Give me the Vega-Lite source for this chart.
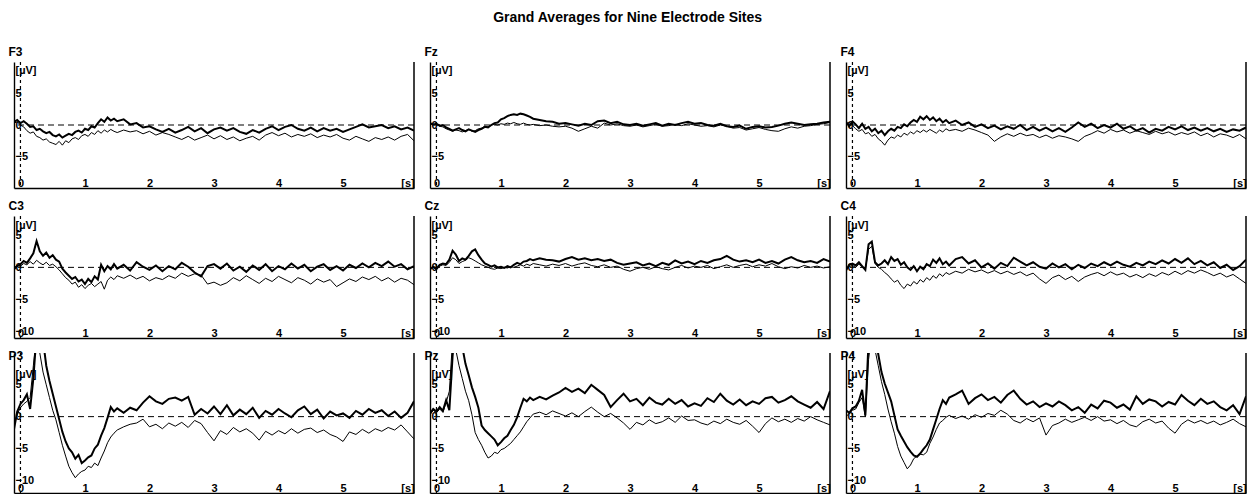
{
"$schema": "https://vega.github.io/schema/vega-lite/v6.json",
"background": "white",
"padding": {"left": 8, "top": 11, "right": 4, "bottom": 0},
"title": {"text": "Grand Averages for Nine Electrode Sites", "anchor": "middle", "dx": 0, "fontSize": 14, "offset": 21},
"data": {"values": [
{"t":-0.1,"F3a":0.5,"F3b":0.3,"Fza":0.3,"Fzb":0.2,"F4a":0.5,"F4b":0.2,"C3a":-0.3,"C3b":0,"Cza":-0.3,"Czb":-0.2,"C4a":-0.5,"C4b":-0.2,"P3a":-2,"P3b":-1.5,"Pza":0.5,"Pzb":0.3,"P4a":1,"P4b":0},
{"t":-0.05,"F3a":0.8,"F3b":0.5,"Fza":0.1,"Fzb":0,"F4a":-0.2,"F4b":0.4,"C3a":0.2,"C3b":0.3,"Cza":0.1,"Czb":0,"C4a":0.4,"C4b":0.1,"P3a":0.8,"P3b":0.4,"Pza":1.2,"Pzb":1,"P4a":0.6,"P4b":0.5},
{"t":0,"F3a":0.3,"F3b":0,"Fza":0.2,"Fzb":0.1,"F4a":0.6,"F4b":-0.1,"C3a":0.5,"C3b":0.2,"Cza":-0.2,"Czb":-0.4,"C4a":0.6,"C4b":0.3,"P3a":2,"P3b":1.4,"Pza":0.8,"Pzb":0.6,"P4a":1.3,"P4b":1},
{"t":0.05,"F3a":0.6,"F3b":-0.3,"Fza":-0.1,"Fzb":-0.2,"F4a":0.1,"F4b":-0.6,"C3a":1,"C3b":0.6,"Cza":0.4,"Czb":0.2,"C4a":0.3,"C4b":0,"P3a":2.6,"P3b":2,"Pza":1.5,"Pzb":1.2,"P4a":1.6,"P4b":1.2},
{"t":0.1,"F3a":0.2,"F3b":-0.9,"Fza":0,"Fzb":-0.3,"F4a":-0.5,"F4b":-1,"C3a":0.7,"C3b":0.4,"Cza":0.6,"Czb":0.4,"C4a":0.8,"C4b":0.5,"P3a":3.5,"P3b":2.4,"Pza":0.9,"Pzb":0.7,"P4a":2.5,"P4b":2.2},
{"t":0.15,"F3a":-0.3,"F3b":-1.3,"Fza":-0.4,"Fzb":-0.6,"F4a":0.2,"F4b":-0.7,"C3a":1.4,"C3b":0.9,"Cza":0.5,"Czb":0.3,"C4a":0.2,"C4b":0.1,"P3a":1.2,"P3b":3,"Pza":2.6,"Pzb":2.2,"P4a":4.2,"P4b":3},
{"t":0.2,"F3a":-0.2,"F3b":-1.1,"Fza":-0.6,"Fzb":-0.8,"F4a":-0.6,"F4b":-1.4,"C3a":2.2,"C3b":0.5,"Cza":1.2,"Czb":0.8,"C4a":-0.4,"C4b":-0.3,"P3a":6,"P3b":8,"Pza":1,"Pzb":4,"P4a":0.2,"P4b":0},
{"t":0.25,"F3a":-0.8,"F3b":-1.8,"Fza":-0.9,"Fzb":-1,"F4a":-0.3,"F4b":-1.2,"C3a":4.1,"C3b":1.1,"Cza":2.6,"Czb":1.5,"C4a":3.6,"C4b":2.8,"P3a":13,"P3b":13,"Pza":9.5,"Pzb":12,"P4a":12,"P4b":9},
{"t":0.3,"F3a":-0.6,"F3b":-2,"Fza":-0.7,"Fzb":-0.8,"F4a":-1,"F4b":-1.8,"C3a":2.5,"C3b":0.7,"Cza":2,"Czb":1.2,"C4a":4,"C4b":3.3,"P3a":16,"P3b":10,"Pza":15,"Pzb":10.5,"P4a":15,"P4b":13},
{"t":0.35,"F3a":-1,"F3b":-2.4,"Fza":-0.5,"Fzb":-0.9,"F4a":-0.6,"F4b":-1.5,"C3a":1.8,"C3b":0.4,"Cza":1,"Czb":0.6,"C4a":0.8,"C4b":0.6,"P3a":12,"P3b":7,"Pza":14,"Pzb":8,"P4a":13,"P4b":10.5},
{"t":0.4,"F3a":-1.3,"F3b":-2.2,"Fza":-0.8,"Fzb":-1.1,"F4a":-1.3,"F4b":-2.2,"C3a":2.3,"C3b":0.8,"Cza":1.4,"Czb":0.9,"C4a":0.3,"C4b":0,"P3a":8,"P3b":5,"Pza":11,"Pzb":6,"P4a":9.8,"P4b":8},
{"t":0.45,"F3a":-1.1,"F3b":-2.7,"Fza":-1,"Fzb":-0.9,"F4a":-0.9,"F4b":-2.6,"C3a":1.5,"C3b":0.3,"Cza":1.2,"Czb":1.1,"C4a":0.6,"C4b":-0.3,"P3a":5.6,"P3b":3,"Pza":8.3,"Pzb":4,"P4a":7,"P4b":5.5},
{"t":0.5,"F3a":-1.6,"F3b":-2.9,"Fza":-0.7,"Fzb":-0.7,"F4a":-1.6,"F4b":-3.2,"C3a":1.9,"C3b":0.5,"Cza":1.8,"Czb":1.5,"C4a":1.1,"C4b":-0.8,"P3a":3.6,"P3b":1,"Pza":6.5,"Pzb":2.5,"P4a":5.2,"P4b":3.5},
{"t":0.55,"F3a":-1.8,"F3b":-3.1,"Fza":-0.9,"Fzb":-1,"F4a":-1,"F4b":-2.4,"C3a":1.2,"C3b":0.1,"Cza":2.5,"Czb":1.3,"C4a":0.5,"C4b":-1.2,"P3a":1.6,"P3b":-0.5,"Pza":4.6,"Pzb":0.3,"P4a":3.8,"P4b":1.2},
{"t":0.6,"F3a":-1.5,"F3b":-2.6,"Fza":-1.1,"Fzb":-0.9,"F4a":-0.6,"F4b":-1.9,"C3a":0.9,"C3b":-0.4,"Cza":2.8,"Czb":1,"C4a":1.6,"C4b":-1.8,"P3a":-0.4,"P3b":-2.5,"Pza":3.1,"Pzb":-2.5,"P4a":2.4,"P4b":-0.8},
{"t":0.65,"F3a":-2,"F3b":-3.2,"Fza":-0.8,"Fzb":-0.6,"F4a":-0.9,"F4b":-2.1,"C3a":-0.2,"C3b":-1,"Cza":1.9,"Czb":0.7,"C4a":1,"C4b":-2.3,"P3a":-2.4,"P3b":-4.5,"Pza":1.4,"Pzb":-3.6,"P4a":0.2,"P4b":-2.6},
{"t":0.7,"F3a":-1.7,"F3b":-2.5,"Fza":-0.6,"Fzb":-0.5,"F4a":-0.3,"F4b":-1.6,"C3a":-0.8,"C3b":-1.6,"Cza":1.2,"Czb":0.4,"C4a":1.3,"C4b":-2,"P3a":-3.9,"P3b":-6.2,"Pza":-1.4,"Pzb":-4.5,"P4a":-2,"P4b":-4.7},
{"t":0.75,"F3a":-1.4,"F3b":-2.8,"Fza":-0.3,"Fzb":-0.2,"F4a":-0.5,"F4b":-1.9,"C3a":-1.3,"C3b":-2,"Cza":0.6,"Czb":0.2,"C4a":0.4,"C4b":-2.8,"P3a":-5,"P3b":-7.8,"Pza":-2.1,"Pzb":-5.6,"P4a":-3,"P4b":-6.2},
{"t":0.8,"F3a":-1.6,"F3b":-2.2,"Fza":-0.4,"Fzb":-0.3,"F4a":0.1,"F4b":-1.3,"C3a":-1.8,"C3b":-2.6,"Cza":0.4,"Czb":0,"C4a":0.8,"C4b":-3.3,"P3a":-5.6,"P3b":-8.8,"Pza":-2.6,"Pzb":-6.5,"P4a":-3.9,"P4b":-7.2},
{"t":0.85,"F3a":-1.1,"F3b":-2,"Fza":0,"Fzb":0,"F4a":-0.2,"F4b":-1.6,"C3a":-1.5,"C3b":-2.3,"Cza":0.1,"Czb":-0.2,"C4a":0,"C4b":-2.6,"P3a":-6.6,"P3b":-9.6,"Pza":-3.1,"Pzb":-6.2,"P4a":-4.8,"P4b":-8.2},
{"t":0.9,"F3a":-0.9,"F3b":-2.3,"Fza":0.3,"Fzb":0.1,"F4a":0.4,"F4b":-1.1,"C3a":-2.2,"C3b":-3.1,"Cza":0.3,"Czb":-0.3,"C4a":-0.4,"C4b":-2.9,"P3a":-6,"P3b":-9,"Pza":-3.6,"Pzb":-5.6,"P4a":-5.5,"P4b":-7.6},
{"t":0.95,"F3a":-1.2,"F3b":-1.7,"Fza":0.4,"Fzb":0,"F4a":0.8,"F4b":-1.4,"C3a":-1.9,"C3b":-2.7,"Cza":0,"Czb":-0.1,"C4a":0.2,"C4b":-2.2,"P3a":-7.3,"P3b":-8.6,"Pza":-4.5,"Pzb":-5.8,"P4a":-6.1,"P4b":-6.6},
{"t":1,"F3a":-0.6,"F3b":-1.5,"Fza":0.9,"Fzb":0.2,"F4a":0.5,"F4b":-0.9,"C3a":-2.6,"C3b":-3.3,"Cza":0.1,"Czb":-0.2,"C4a":-0.6,"C4b":-2.6,"P3a":-6.9,"P3b":-8.4,"Pza":-4,"Pzb":-5.2,"P4a":-6.3,"P4b":-6.2},
{"t":1.05,"F3a":-0.8,"F3b":-1.8,"Fza":1.1,"Fzb":0.1,"F4a":1.3,"F4b":-1.2,"C3a":-1.8,"C3b":-2.8,"Cza":-0.1,"Czb":0,"C4a":0.1,"C4b":-1.9,"P3a":-6.4,"P3b":-7.8,"Pza":-3.4,"Pzb":-5,"P4a":-5.8,"P4b":-5.9},
{"t":1.1,"F3a":-0.2,"F3b":-1.2,"Fza":1.4,"Fzb":0.3,"F4a":0.9,"F4b":-0.8,"C3a":-2.3,"C3b":-2.5,"Cza":0.2,"Czb":-0.1,"C4a":-0.3,"C4b":-2.3,"P3a":-6.1,"P3b":-8,"Pza":-3,"Pzb":-4.6,"P4a":-5.1,"P4b":-6},
{"t":1.15,"F3a":-0.4,"F3b":-1.5,"Fza":1.6,"Fzb":0.2,"F4a":1.4,"F4b":-1.1,"C3a":-1.4,"C3b":-3,"Cza":0,"Czb":0.1,"C4a":0.5,"C4b":-1.6,"P3a":-5,"P3b":-7.3,"Pza":-2.1,"Pzb":-4.2,"P4a":-4.5,"P4b":-5.6},
{"t":1.2,"F3a":0.3,"F3b":-0.9,"Fza":1.7,"Fzb":0.4,"F4a":0.8,"F4b":-0.7,"C3a":-1.9,"C3b":-2.6,"Cza":0.4,"Czb":0,"C4a":0.2,"C4b":-2,"P3a":-4.4,"P3b":-7.7,"Pza":-1.3,"Pzb":-3.6,"P4a":-3.6,"P4b":-4.2},
{"t":1.25,"F3a":0.9,"F3b":-1.3,"Fza":1.6,"Fzb":0.2,"F4a":1.2,"F4b":-1,"C3a":0.4,"C3b":-2.2,"Cza":0.7,"Czb":0.2,"C4a":1.2,"C4b":-1.3,"P3a":-3,"P3b":-6.5,"Pza":-0.1,"Pzb":-3,"P4a":-2,"P4b":-3.2},
{"t":1.3,"F3a":0.5,"F3b":-0.8,"Fza":1.8,"Fzb":0.1,"F4a":0.6,"F4b":-1.3,"C3a":-0.6,"C3b":-3.4,"Cza":0.5,"Czb":0.4,"C4a":0.7,"C4b":-1.7,"P3a":-1.8,"P3b":-5.4,"Pza":1.4,"Pzb":-2.4,"P4a":-0.4,"P4b":-2},
{"t":1.35,"F3a":1.2,"F3b":-1.1,"Fza":1.7,"Fzb":0.3,"F4a":1,"F4b":-0.8,"C3a":0.2,"C3b":-2,"Cza":0.9,"Czb":0.2,"C4a":1.4,"C4b":-1,"P3a":-0.2,"P3b":-4.1,"Pza":2.8,"Pzb":-1.6,"P4a":1.2,"P4b":-1},
{"t":1.4,"F3a":0.7,"F3b":-0.7,"Fza":1.5,"Fzb":0.1,"F4a":0.4,"F4b":-1.1,"C3a":-0.3,"C3b":-1.5,"Cza":1,"Czb":0.5,"C4a":0.5,"C4b":-1.4,"P3a":1.5,"P3b":-3.2,"Pza":2.4,"Pzb":-0.8,"P4a":2.6,"P4b":-0.6},
{"t":1.45,"F3a":1,"F3b":-1,"Fza":1.3,"Fzb":0,"F4a":0.8,"F4b":-0.6,"C3a":0.5,"C3b":-1.9,"Cza":1.3,"Czb":0.3,"C4a":0.9,"C4b":-0.8,"P3a":0.8,"P3b":-2.6,"Pza":3,"Pzb":-0.2,"P4a":2,"P4b":-0.1},
{"t":1.5,"F3a":0.6,"F3b":-1.2,"Fza":1,"Fzb":0.1,"F4a":0.3,"F4b":-0.9,"C3a":-0.2,"C3b":-1.3,"Cza":1.1,"Czb":0.6,"C4a":0.3,"C4b":-1.1,"P3a":1.3,"P3b":-2.1,"Pza":2.6,"Pzb":0.4,"P4a":3,"P4b":0.2},
{"t":1.6,"F3a":0.9,"F3b":-0.8,"Fza":0.8,"Fzb":-0.1,"F4a":0.7,"F4b":-0.7,"C3a":0.4,"C3b":-1.7,"Cza":1.4,"Czb":0.4,"C4a":1.3,"C4b":-0.6,"P3a":0.6,"P3b":-1.6,"Pza":3.1,"Pzb":0.7,"P4a":3.5,"P4b":-0.3},
{"t":1.7,"F3a":0.1,"F3b":-1.1,"Fza":0.6,"Fzb":0,"F4a":0,"F4b":-1,"C3a":-0.5,"C3b":-1.2,"Cza":1.2,"Czb":0.2,"C4a":1.6,"C4b":-0.9,"P3a":1.4,"P3b":-1.2,"Pza":2.7,"Pzb":0.3,"P4a":4.1,"P4b":0.1},
{"t":1.8,"F3a":0.3,"F3b":-0.9,"Fza":0.5,"Fzb":-0.2,"F4a":0.4,"F4b":-0.5,"C3a":0.8,"C3b":-1.8,"Cza":1.1,"Czb":0.5,"C4a":0.6,"C4b":-0.3,"P3a":1,"P3b":-1,"Pza":3.3,"Pzb":0.9,"P4a":2,"P4b":-0.4},
{"t":1.9,"F3a":-0.4,"F3b":-1.4,"Fza":0.2,"Fzb":-0.3,"F4a":-0.3,"F4b":-0.8,"C3a":0.1,"C3b":-1.4,"Cza":0.9,"Czb":0.3,"C4a":1.1,"C4b":-0.7,"P3a":2.2,"P3b":-0.4,"Pza":3.8,"Pzb":0.5,"P4a":2.9,"P4b":0.3},
{"t":2,"F3a":-0.2,"F3b":-1,"Fza":0.3,"Fzb":-0.2,"F4a":0.1,"F4b":-1.2,"C3a":-0.4,"C3b":-2.1,"Cza":1.3,"Czb":0.6,"C4a":0,"C4b":-0.4,"P3a":3.2,"P3b":-1.6,"Pza":4.5,"Pzb":0.1,"P4a":3.5,"P4b":-0.1},
{"t":2.1,"F3a":-0.7,"F3b":-1.6,"Fza":0.1,"Fzb":-0.5,"F4a":-0.5,"F4b":-1.6,"C3a":0.3,"C3b":-1.6,"Cza":1.6,"Czb":0.2,"C4a":0.6,"C4b":-0.9,"P3a":2.4,"P3b":-1.2,"Pza":3.9,"Pzb":0.6,"P4a":2.6,"P4b":0.5},
{"t":2.2,"F3a":-1.1,"F3b":-1.2,"Fza":-0.1,"Fzb":-1,"F4a":-0.1,"F4b":-2.6,"C3a":-0.6,"C3b":-1.9,"Cza":1.2,"Czb":0.5,"C4a":-0.2,"C4b":-0.5,"P3a":2,"P3b":-1.9,"Pza":4.4,"Pzb":0,"P4a":3.1,"P4b":0.2},
{"t":2.3,"F3a":-0.6,"F3b":-1.5,"Fza":0.2,"Fzb":-0.6,"F4a":-0.7,"F4b":-1.9,"C3a":0.2,"C3b":-1.3,"Cza":1.4,"Czb":0.7,"C4a":0.7,"C4b":-1,"P3a":2.8,"P3b":-1,"Pza":3.7,"Pzb":0.8,"P4a":2.2,"P4b":1},
{"t":2.4,"F3a":-1.2,"F3b":-1.9,"Fza":0,"Fzb":-0.2,"F4a":-0.2,"F4b":-1.4,"C3a":-0.3,"C3b":-1.7,"Cza":1.1,"Czb":0.3,"C4a":0.2,"C4b":-0.6,"P3a":3,"P3b":-1.5,"Pza":5,"Pzb":1.5,"P4a":3.4,"P4b":0.4},
{"t":2.5,"F3a":-0.8,"F3b":-2.3,"Fza":0.6,"Fzb":-0.5,"F4a":-0.6,"F4b":-1.8,"C3a":0.7,"C3b":-0.9,"Cza":1.3,"Czb":0.1,"C4a":1.5,"C4b":-1.1,"P3a":2.5,"P3b":-0.9,"Pza":4.2,"Pzb":0.7,"P4a":4.1,"P4b":-0.6},
{"t":2.6,"F3a":-0.3,"F3b":-1.8,"Fza":0.7,"Fzb":0.3,"F4a":0,"F4b":-1.3,"C3a":0.1,"C3b":-1.4,"Cza":1,"Czb":0.4,"C4a":0.9,"C4b":-0.7,"P3a":3.1,"P3b":-1.7,"Pza":3.4,"Pzb":0,"P4a":2.8,"P4b":-1},
{"t":2.7,"F3a":-1,"F3b":-2.4,"Fza":0.3,"Fzb":0,"F4a":-0.8,"F4b":-1.7,"C3a":-0.8,"C3b":-1,"Cza":1.2,"Czb":0,"C4a":0.3,"C4b":-1.3,"P3a":0.3,"P3b":-0.6,"Pza":1.5,"Pzb":0.5,"P4a":1.9,"P4b":-0.3},
{"t":2.8,"F3a":-0.5,"F3b":-2,"Fza":0.5,"Fzb":0.2,"F4a":-0.3,"F4b":-1.5,"C3a":-1.4,"C3b":-1.2,"Cza":0.7,"Czb":0.2,"C4a":0.8,"C4b":-0.9,"P3a":1.2,"P3b":-1.1,"Pza":2.6,"Pzb":-0.2,"P4a":2.4,"P4b":-0.8},
{"t":2.9,"F3a":-1.3,"F3b":-1.6,"Fza":0.1,"Fzb":-0.1,"F4a":-0.9,"F4b":-2,"C3a":0.2,"C3b":-2.6,"Cza":0.4,"Czb":-0.3,"C4a":0.1,"C4b":-1.8,"P3a":0.5,"P3b":-2.5,"Pza":3.6,"Pzb":-1,"P4a":1.5,"P4b":-0.2},
{"t":3,"F3a":-0.7,"F3b":-2.2,"Fza":0,"Fzb":-0.2,"F4a":-0.4,"F4b":-1.6,"C3a":0.5,"C3b":-2.3,"Cza":0.6,"Czb":-0.6,"C4a":-0.2,"C4b":-2.5,"P3a":1.6,"P3b":-3.8,"Pza":2.4,"Pzb":-2,"P4a":2.1,"P4b":-2.9},
{"t":3.1,"F3a":-0.4,"F3b":-1.7,"Fza":0.2,"Fzb":0,"F4a":-1,"F4b":-2.1,"C3a":-0.2,"C3b":-2.8,"Cza":0.8,"Czb":-0.2,"C4a":0.6,"C4b":-1.6,"P3a":0.4,"P3b":-2.2,"Pza":2.8,"Pzb":-0.9,"P4a":1.6,"P4b":-1.4},
{"t":3.2,"F3a":-0.9,"F3b":-2.3,"Fza":-0.1,"Fzb":-0.3,"F4a":-0.5,"F4b":-1.7,"C3a":0.6,"C3b":-2.4,"Cza":0.3,"Czb":0,"C4a":0,"C4b":-1.2,"P3a":1.8,"P3b":-2.8,"Pza":1.8,"Pzb":-1.3,"P4a":2.4,"P4b":-1},
{"t":3.3,"F3a":-0.5,"F3b":-1.9,"Fza":0.1,"Fzb":-0.1,"F4a":-1.1,"F4b":-1.9,"C3a":-0.5,"C3b":-1.6,"Cza":0.6,"Czb":-0.3,"C4a":0.5,"C4b":-1.9,"P3a":0.2,"P3b":-1.7,"Pza":3,"Pzb":-0.5,"P4a":1.8,"P4b":-0.4},
{"t":3.4,"F3a":-1.1,"F3b":-2.5,"Fza":0.3,"Fzb":0.1,"F4a":-0.4,"F4b":-2.2,"C3a":0.1,"C3b":-2.1,"Cza":0.2,"Czb":0.1,"C4a":-0.3,"C4b":-1.4,"P3a":1.1,"P3b":-2.4,"Pza":2.2,"Pzb":-1.1,"P4a":1,"P4b":-0.9},
{"t":3.5,"F3a":-1.4,"F3b":-2.1,"Fza":-0.1,"Fzb":-0.2,"F4a":0.4,"F4b":-2.6,"C3a":-0.7,"C3b":-1.3,"Cza":0.7,"Czb":-0.2,"C4a":0.4,"C4b":-2.2,"P3a":0.4,"P3b":-1.9,"Pza":1.9,"Pzb":-0.8,"P4a":1.5,"P4b":-0.5},
{"t":3.6,"F3a":-0.8,"F3b":-1.8,"Fza":0.2,"Fzb":-0.1,"F4a":-0.3,"F4b":-1.8,"C3a":0.3,"C3b":-1.9,"Cza":0.4,"Czb":-0.4,"C4a":-0.1,"C4b":-1.5,"P3a":1.4,"P3b":-2.6,"Pza":2.8,"Pzb":-0.2,"P4a":0.6,"P4b":-0.1},
{"t":3.7,"F3a":-1.2,"F3b":-2.4,"Fza":0,"Fzb":0.1,"F4a":0.2,"F4b":-1.4,"C3a":-0.4,"C3b":-2.5,"Cza":1.1,"Czb":0,"C4a":0.6,"C4b":-1.1,"P3a":-0.2,"P3b":-3.7,"Pza":2,"Pzb":-0.9,"P4a":1.9,"P4b":-0.6},
{"t":3.8,"F3a":-0.6,"F3b":-1.6,"Fza":0.3,"Fzb":-0.1,"F4a":-0.5,"F4b":-0.9,"C3a":0.5,"C3b":-1.7,"Cza":0.6,"Czb":0.3,"C4a":0.2,"C4b":-0.8,"P3a":0.9,"P3b":-2.3,"Pza":2.6,"Pzb":0.1,"P4a":1.3,"P4b":0},
{"t":3.9,"F3a":-0.2,"F3b":-1.2,"Fza":0.5,"Fzb":0.2,"F4a":0,"F4b":-1.3,"C3a":-0.6,"C3b":-2.2,"Cza":0.9,"Czb":-0.1,"C4a":0.8,"C4b":-1.3,"P3a":0.3,"P3b":-2.9,"Pza":1.6,"Pzb":-0.6,"P4a":2.5,"P4b":-0.7},
{"t":4,"F3a":-0.8,"F3b":-1.7,"Fza":0.2,"Fzb":0,"F4a":-0.4,"F4b":-0.7,"C3a":0.2,"C3b":-1.4,"Cza":0.5,"Czb":0.2,"C4a":0.3,"C4b":-0.7,"P3a":1.2,"P3b":-2.2,"Pza":2.1,"Pzb":-0.5,"P4a":2.2,"P4b":-0.5},
{"t":4.1,"F3a":-0.3,"F3b":-1.3,"Fza":0.3,"Fzb":-0.2,"F4a":0.2,"F4b":-1.1,"C3a":-0.3,"C3b":-1.9,"Cza":1,"Czb":0,"C4a":0.9,"C4b":-1.2,"P3a":0.5,"P3b":-2.7,"Pza":1.7,"Pzb":-1,"P4a":1.4,"P4b":-1.1},
{"t":4.2,"F3a":0,"F3b":-1.9,"Fza":0,"Fzb":-0.1,"F4a":-0.6,"F4b":-0.8,"C3a":0.6,"C3b":-2.4,"Cza":0.7,"Czb":0.3,"C4a":0.4,"C4b":-0.9,"P3a":-0.1,"P3b":-1.9,"Pza":2.9,"Pzb":-1.3,"P4a":1.9,"P4b":-0.6},
{"t":4.3,"F3a":-0.6,"F3b":-1.5,"Fza":-0.1,"Fzb":-0.3,"F4a":-0.2,"F4b":-1.3,"C3a":-0.2,"C3b":-1.6,"Cza":1.1,"Czb":-0.2,"C4a":0.1,"C4b":-1.5,"P3a":1,"P3b":-2.6,"Pza":2.3,"Pzb":-0.7,"P4a":1.1,"P4b":-1.3},
{"t":4.4,"F3a":-0.9,"F3b":-1.8,"Fza":0.2,"Fzb":0,"F4a":-0.9,"F4b":-0.9,"C3a":0.4,"C3b":-2,"Cza":1.3,"Czb":0.1,"C4a":0.7,"C4b":-1.1,"P3a":1.6,"P3b":-2,"Pza":3.6,"Pzb":-1.1,"P4a":3.2,"P4b":-1.6},
{"t":4.5,"F3a":-0.4,"F3b":-1.4,"Fza":-0.2,"Fzb":-0.2,"F4a":-0.5,"F4b":-1.2,"C3a":-0.6,"C3b":-2.6,"Cza":1.8,"Czb":0.4,"C4a":0.3,"C4b":-1.6,"P3a":0.4,"P3b":-1.8,"Pza":2.5,"Pzb":-0.4,"P4a":2,"P4b":-0.8},
{"t":4.6,"F3a":-1,"F3b":-2,"Fza":-0.3,"Fzb":-0.5,"F4a":-1.2,"F4b":-1.5,"C3a":0.1,"C3b":-1.8,"Cza":1.2,"Czb":0,"C4a":0.9,"C4b":-1,"P3a":1.1,"P3b":-2.5,"Pza":1.9,"Pzb":-0.9,"P4a":2.7,"P4b":-0.4},
{"t":4.7,"F3a":-0.5,"F3b":-1.6,"Fza":-0.1,"Fzb":-0.4,"F4a":-0.6,"F4b":-1,"C3a":0.5,"C3b":-2.3,"Cza":0.9,"Czb":0.3,"C4a":0.5,"C4b":-1.4,"P3a":-0.3,"P3b":-2.1,"Pza":2.7,"Pzb":-1.2,"P4a":2.4,"P4b":-1},
{"t":4.8,"F3a":-0.9,"F3b":-1.9,"Fza":-0.6,"Fzb":-0.8,"F4a":-0.9,"F4b":-1.4,"C3a":-0.4,"C3b":-1.9,"Cza":1.1,"Czb":0.5,"C4a":1.1,"C4b":-0.8,"P3a":0.8,"P3b":-2.8,"Pza":1.8,"Pzb":-0.6,"P4a":1.6,"P4b":-0.7},
{"t":4.9,"F3a":-0.6,"F3b":-1.5,"Fza":-0.3,"Fzb":-0.6,"F4a":-0.3,"F4b":-1.1,"C3a":0.2,"C3b":-3,"Cza":0.8,"Czb":0.1,"C4a":0.6,"C4b":-1.2,"P3a":0.2,"P3b":-3.2,"Pza":2.4,"Pzb":-1.5,"P4a":2.3,"P4b":-1.8},
{"t":5,"F3a":-1.1,"F3b":-2.1,"Fza":-0.2,"Fzb":-0.4,"F4a":-0.7,"F4b":-1.6,"C3a":-0.5,"C3b":-2.4,"Cza":1.2,"Czb":0.4,"C4a":1.3,"C4b":-0.6,"P3a":0.5,"P3b":-3.9,"Pza":2,"Pzb":-2.5,"P4a":1.9,"P4b":-2.6},
{"t":5.1,"F3a":-0.7,"F3b":-2.4,"Fza":-0.4,"Fzb":-0.7,"F4a":-0.2,"F4b":-1.2,"C3a":0.4,"C3b":-1.8,"Cza":0.7,"Czb":0.2,"C4a":0.7,"C4b":-1.1,"P3a":-0.2,"P3b":-2.4,"Pza":2.9,"Pzb":-1.1,"P4a":3.4,"P4b":-1.2},
{"t":5.2,"F3a":-0.3,"F3b":-1.8,"Fza":-0.3,"Fzb":-0.9,"F4a":-0.8,"F4b":-1.5,"C3a":-0.1,"C3b":-2.2,"Cza":1,"Czb":0.6,"C4a":1.4,"C4b":-0.5,"P3a":0.9,"P3b":-2.8,"Pza":3.1,"Pzb":-0.2,"P4a":2.5,"P4b":-0.5},
{"t":5.3,"F3a":0.1,"F3b":-2.2,"Fza":-0.1,"Fzb":-1,"F4a":-0.4,"F4b":-1.1,"C3a":0.6,"C3b":-1.5,"Cza":0.6,"Czb":0.1,"C4a":0.5,"C4b":-0.9,"P3a":0.3,"P3b":-2,"Pza":2.2,"Pzb":-0.8,"P4a":1.8,"P4b":-1},
{"t":5.4,"F3a":-0.4,"F3b":-2.6,"Fza":0.2,"Fzb":-0.6,"F4a":-0.9,"F4b":-1.7,"C3a":0,"C3b":-1.9,"Cza":1.2,"Czb":-0.2,"C4a":1,"C4b":-0.4,"P3a":1.2,"P3b":-2.6,"Pza":2.6,"Pzb":-0.4,"P4a":2.8,"P4b":-0.6},
{"t":5.5,"F3a":-0.2,"F3b":-2,"Fza":0.4,"Fzb":-0.3,"F4a":-0.5,"F4b":-1.3,"C3a":0.7,"C3b":-1.4,"Cza":1.6,"Czb":0.1,"C4a":0.3,"C4b":-0.8,"P3a":0.6,"P3b":-1.9,"Pza":3.2,"Pzb":-0.9,"P4a":2,"P4b":-1.1},
{"t":5.6,"F3a":0,"F3b":-2.3,"Fza":0.2,"Fzb":-0.5,"F4a":-1,"F4b":-1.9,"C3a":0.2,"C3b":-2.1,"Cza":1.1,"Czb":-0.1,"C4a":0.8,"C4b":-1.3,"P3a":1,"P3b":-2.3,"Pza":2.4,"Pzb":-0.3,"P4a":2.4,"P4b":-0.7},
{"t":5.7,"F3a":-0.5,"F3b":-1.9,"Fza":0,"Fzb":-0.2,"F4a":-0.6,"F4b":-1.4,"C3a":0.9,"C3b":-1.6,"Cza":0.8,"Czb":0.3,"C4a":-0.1,"C4b":-0.9,"P3a":0.1,"P3b":-1.7,"Pza":1.9,"Pzb":-0.7,"P4a":1.5,"P4b":-1.3},
{"t":5.8,"F3a":-0.2,"F3b":-2.4,"Fza":0.1,"Fzb":-0.1,"F4a":-1.1,"F4b":-1.6,"C3a":0.1,"C3b":-2.3,"Cza":1,"Czb":0,"C4a":0.4,"C4b":-1.5,"P3a":0.8,"P3b":-2.1,"Pza":1.4,"Pzb":0,"P4a":1,"P4b":-0.9},
{"t":5.9,"F3a":-0.7,"F3b":-1.8,"Fza":0.2,"Fzb":0.1,"F4a":-0.7,"F4b":-2,"C3a":0.5,"C3b":-1.7,"Cza":0.7,"Czb":0.2,"C4a":-0.4,"C4b":-1.1,"P3a":-0.2,"P3b":-1.3,"Pza":2.3,"Pzb":-0.5,"P4a":1.8,"P4b":-0.4},
{"t":6,"F3a":-0.4,"F3b":-1.5,"Fza":0.4,"Fzb":0.2,"F4a":-0.9,"F4b":-1.5,"C3a":-0.3,"C3b":-2,"Cza":1.3,"Czb":-0.1,"C4a":0.2,"C4b":-1.8,"P3a":0.6,"P3b":-2.4,"Pza":1.2,"Pzb":-0.9,"P4a":0.4,"P4b":-1.1},
{"t":6.1,"F3a":-0.9,"F3b":-2.5,"Fza":0.5,"Fzb":0.4,"F4a":-0.4,"F4b":-2.2,"C3a":0.2,"C3b":-2.7,"Cza":0.9,"Czb":0.1,"C4a":1.2,"C4b":-2.5,"P3a":2.4,"P3b":-3.5,"Pza":4,"Pzb":-1.3,"P4a":3.2,"P4b":-1.6}
]},
"spacing": 11,
"vconcat": [
{"hconcat": [
{"title": "F3", "width": 400, "height": 126, "layer": [
{"data": {"values": [{"ref": 0}]}, "mark": {"type": "rule", "strokeDash": [3, 3], "strokeWidth": 1.2}, "encoding": {"x": {"datum": 0}}},
{"data": {"values": [{"ref": 0}]}, "mark": {"type": "rule", "strokeDash": [6, 4], "strokeWidth": 1}, "encoding": {"y": {"datum": 0}}},
{"data": {"values": [{"ref": 6.1}]}, "mark": {"type": "rule", "strokeWidth": 1.5}, "encoding": {"x": {"datum": 6.1}}},
{"mark": {"type": "line", "strokeWidth": 1, "clip": true}, "encoding": {"x": {"field": "t", "type": "quantitative", "scale": {"domain": [-0.1, 6.1], "nice": false, "zero": false}, "axis": {"title": null, "format": "d", "values": [0, 1, 2, 3, 4, 5, 6], "labelExpr": "datum.value == 6 ? '[s]' : datum.label"}}, "y": {"field": "F3b", "type": "quantitative", "scale": {"domain": [-10, 10], "nice": false, "zero": false}, "axis": {"title": "[µV]", "values": [-5, 0, 5], "titleY": 8}}}},
{"mark": {"type": "line", "strokeWidth": 2, "clip": true}, "encoding": {"x": {"field": "t", "type": "quantitative", "axis": {"title": null, "format": "d", "values": [0, 1, 2, 3, 4, 5, 6], "labelExpr": "datum.value == 6 ? '[s]' : datum.label"}}, "y": {"field": "F3a", "type": "quantitative", "axis": {"title": "[µV]", "values": [-5, 0, 5], "titleY": 8}}}}
]},
{"title": "Fz", "width": 400, "height": 126, "layer": [
{"data": {"values": [{"ref": 0}]}, "mark": {"type": "rule", "strokeDash": [3, 3], "strokeWidth": 1.2}, "encoding": {"x": {"datum": 0}}},
{"data": {"values": [{"ref": 0}]}, "mark": {"type": "rule", "strokeDash": [6, 4], "strokeWidth": 1}, "encoding": {"y": {"datum": 0}}},
{"data": {"values": [{"ref": 6.1}]}, "mark": {"type": "rule", "strokeWidth": 1.5}, "encoding": {"x": {"datum": 6.1}}},
{"mark": {"type": "line", "strokeWidth": 1, "clip": true}, "encoding": {"x": {"field": "t", "type": "quantitative", "scale": {"domain": [-0.1, 6.1], "nice": false, "zero": false}, "axis": {"title": null, "format": "d", "values": [0, 1, 2, 3, 4, 5, 6], "labelExpr": "datum.value == 6 ? '[s]' : datum.label"}}, "y": {"field": "Fzb", "type": "quantitative", "scale": {"domain": [-10, 10], "nice": false, "zero": false}, "axis": {"title": "[µV]", "values": [-5, 0, 5], "titleY": 8}}}},
{"mark": {"type": "line", "strokeWidth": 2, "clip": true}, "encoding": {"x": {"field": "t", "type": "quantitative", "axis": {"title": null, "format": "d", "values": [0, 1, 2, 3, 4, 5, 6], "labelExpr": "datum.value == 6 ? '[s]' : datum.label"}}, "y": {"field": "Fza", "type": "quantitative", "axis": {"title": "[µV]", "values": [-5, 0, 5], "titleY": 8}}}}
]},
{"title": "F4", "width": 400, "height": 126, "layer": [
{"data": {"values": [{"ref": 0}]}, "mark": {"type": "rule", "strokeDash": [3, 3], "strokeWidth": 1.2}, "encoding": {"x": {"datum": 0}}},
{"data": {"values": [{"ref": 0}]}, "mark": {"type": "rule", "strokeDash": [6, 4], "strokeWidth": 1}, "encoding": {"y": {"datum": 0}}},
{"data": {"values": [{"ref": 6.1}]}, "mark": {"type": "rule", "strokeWidth": 1.5}, "encoding": {"x": {"datum": 6.1}}},
{"mark": {"type": "line", "strokeWidth": 1, "clip": true}, "encoding": {"x": {"field": "t", "type": "quantitative", "scale": {"domain": [-0.1, 6.1], "nice": false, "zero": false}, "axis": {"title": null, "format": "d", "values": [0, 1, 2, 3, 4, 5, 6], "labelExpr": "datum.value == 6 ? '[s]' : datum.label"}}, "y": {"field": "F4b", "type": "quantitative", "scale": {"domain": [-10, 10], "nice": false, "zero": false}, "axis": {"title": "[µV]", "values": [-5, 0, 5], "titleY": 8}}}},
{"mark": {"type": "line", "strokeWidth": 2, "clip": true}, "encoding": {"x": {"field": "t", "type": "quantitative", "axis": {"title": null, "format": "d", "values": [0, 1, 2, 3, 4, 5, 6], "labelExpr": "datum.value == 6 ? '[s]' : datum.label"}}, "y": {"field": "F4a", "type": "quantitative", "axis": {"title": "[µV]", "values": [-5, 0, 5], "titleY": 8}}}}
]}
], "spacing": 9},
{"hconcat": [
{"title": "C3", "width": 400, "height": 122, "layer": [
{"data": {"values": [{"ref": 0}]}, "mark": {"type": "rule", "strokeDash": [3, 3], "strokeWidth": 1.2}, "encoding": {"x": {"datum": 0}}},
{"data": {"values": [{"ref": 0}]}, "mark": {"type": "rule", "strokeDash": [6, 4], "strokeWidth": 1}, "encoding": {"y": {"datum": 0}}},
{"data": {"values": [{"ref": 6.1}]}, "mark": {"type": "rule", "strokeWidth": 1.5}, "encoding": {"x": {"datum": 6.1}}},
{"mark": {"type": "line", "strokeWidth": 1, "clip": true}, "encoding": {"x": {"field": "t", "type": "quantitative", "scale": {"domain": [-0.1, 6.1], "nice": false, "zero": false}, "axis": {"title": null, "format": "d", "values": [0, 1, 2, 3, 4, 5, 6], "labelExpr": "datum.value == 6 ? '[s]' : datum.label"}}, "y": {"field": "C3b", "type": "quantitative", "scale": {"domain": [-11, 8], "nice": false, "zero": false}, "axis": {"title": "[µV]", "values": [-10, -5, 0, 5], "titleY": 9}}}},
{"mark": {"type": "line", "strokeWidth": 2, "clip": true}, "encoding": {"x": {"field": "t", "type": "quantitative", "axis": {"title": null, "format": "d", "values": [0, 1, 2, 3, 4, 5, 6], "labelExpr": "datum.value == 6 ? '[s]' : datum.label"}}, "y": {"field": "C3a", "type": "quantitative", "axis": {"title": "[µV]", "values": [-10, -5, 0, 5], "titleY": 9}}}}
]},
{"title": "Cz", "width": 400, "height": 122, "layer": [
{"data": {"values": [{"ref": 0}]}, "mark": {"type": "rule", "strokeDash": [3, 3], "strokeWidth": 1.2}, "encoding": {"x": {"datum": 0}}},
{"data": {"values": [{"ref": 0}]}, "mark": {"type": "rule", "strokeDash": [6, 4], "strokeWidth": 1}, "encoding": {"y": {"datum": 0}}},
{"data": {"values": [{"ref": 6.1}]}, "mark": {"type": "rule", "strokeWidth": 1.5}, "encoding": {"x": {"datum": 6.1}}},
{"mark": {"type": "line", "strokeWidth": 1, "clip": true}, "encoding": {"x": {"field": "t", "type": "quantitative", "scale": {"domain": [-0.1, 6.1], "nice": false, "zero": false}, "axis": {"title": null, "format": "d", "values": [0, 1, 2, 3, 4, 5, 6], "labelExpr": "datum.value == 6 ? '[s]' : datum.label"}}, "y": {"field": "Czb", "type": "quantitative", "scale": {"domain": [-11, 8], "nice": false, "zero": false}, "axis": {"title": "[µV]", "values": [-10, -5, 0, 5], "titleY": 9}}}},
{"mark": {"type": "line", "strokeWidth": 2, "clip": true}, "encoding": {"x": {"field": "t", "type": "quantitative", "axis": {"title": null, "format": "d", "values": [0, 1, 2, 3, 4, 5, 6], "labelExpr": "datum.value == 6 ? '[s]' : datum.label"}}, "y": {"field": "Cza", "type": "quantitative", "axis": {"title": "[µV]", "values": [-10, -5, 0, 5], "titleY": 9}}}}
]},
{"title": "C4", "width": 400, "height": 122, "layer": [
{"data": {"values": [{"ref": 0}]}, "mark": {"type": "rule", "strokeDash": [3, 3], "strokeWidth": 1.2}, "encoding": {"x": {"datum": 0}}},
{"data": {"values": [{"ref": 0}]}, "mark": {"type": "rule", "strokeDash": [6, 4], "strokeWidth": 1}, "encoding": {"y": {"datum": 0}}},
{"data": {"values": [{"ref": 6.1}]}, "mark": {"type": "rule", "strokeWidth": 1.5}, "encoding": {"x": {"datum": 6.1}}},
{"mark": {"type": "line", "strokeWidth": 1, "clip": true}, "encoding": {"x": {"field": "t", "type": "quantitative", "scale": {"domain": [-0.1, 6.1], "nice": false, "zero": false}, "axis": {"title": null, "format": "d", "values": [0, 1, 2, 3, 4, 5, 6], "labelExpr": "datum.value == 6 ? '[s]' : datum.label"}}, "y": {"field": "C4b", "type": "quantitative", "scale": {"domain": [-11, 8], "nice": false, "zero": false}, "axis": {"title": "[µV]", "values": [-10, -5, 0, 5], "titleY": 9}}}},
{"mark": {"type": "line", "strokeWidth": 2, "clip": true}, "encoding": {"x": {"field": "t", "type": "quantitative", "axis": {"title": null, "format": "d", "values": [0, 1, 2, 3, 4, 5, 6], "labelExpr": "datum.value == 6 ? '[s]' : datum.label"}}, "y": {"field": "C4a", "type": "quantitative", "axis": {"title": "[µV]", "values": [-10, -5, 0, 5], "titleY": 9}}}}
]}
], "spacing": 9},
{"hconcat": [
{"title": {"text": "P3", "offset": -11}, "width": 400, "height": 140, "layer": [
{"data": {"values": [{"ref": 0}]}, "mark": {"type": "rule", "strokeDash": [3, 3], "strokeWidth": 1.2}, "encoding": {"x": {"datum": 0}}},
{"data": {"values": [{"ref": 0}]}, "mark": {"type": "rule", "strokeDash": [6, 4], "strokeWidth": 1}, "encoding": {"y": {"datum": 0}}},
{"data": {"values": [{"ref": 6.1}]}, "mark": {"type": "rule", "strokeWidth": 1.5}, "encoding": {"x": {"datum": 6.1}}},
{"mark": {"type": "line", "strokeWidth": 1, "clip": true}, "encoding": {"x": {"field": "t", "type": "quantitative", "scale": {"domain": [-0.1, 6.1], "nice": false, "zero": false}, "axis": {"title": null, "format": "d", "values": [0, 1, 2, 3, 4, 5, 6], "labelExpr": "datum.value == 6 ? '[s]' : datum.label"}}, "y": {"field": "P3b", "type": "quantitative", "scale": {"domain": [-12, 10], "nice": false, "zero": false}, "axis": {"title": "[µV]", "values": [-10, -5, 0, 5], "titleY": 21}}}},
{"mark": {"type": "line", "strokeWidth": 2, "clip": true}, "encoding": {"x": {"field": "t", "type": "quantitative", "axis": {"title": null, "format": "d", "values": [0, 1, 2, 3, 4, 5, 6], "labelExpr": "datum.value == 6 ? '[s]' : datum.label"}}, "y": {"field": "P3a", "type": "quantitative", "axis": {"title": "[µV]", "values": [-10, -5, 0, 5], "titleY": 21}}}}
]},
{"title": {"text": "Pz", "offset": -11}, "width": 400, "height": 140, "layer": [
{"data": {"values": [{"ref": 0}]}, "mark": {"type": "rule", "strokeDash": [3, 3], "strokeWidth": 1.2}, "encoding": {"x": {"datum": 0}}},
{"data": {"values": [{"ref": 0}]}, "mark": {"type": "rule", "strokeDash": [6, 4], "strokeWidth": 1}, "encoding": {"y": {"datum": 0}}},
{"data": {"values": [{"ref": 6.1}]}, "mark": {"type": "rule", "strokeWidth": 1.5}, "encoding": {"x": {"datum": 6.1}}},
{"mark": {"type": "line", "strokeWidth": 1, "clip": true}, "encoding": {"x": {"field": "t", "type": "quantitative", "scale": {"domain": [-0.1, 6.1], "nice": false, "zero": false}, "axis": {"title": null, "format": "d", "values": [0, 1, 2, 3, 4, 5, 6], "labelExpr": "datum.value == 6 ? '[s]' : datum.label"}}, "y": {"field": "Pzb", "type": "quantitative", "scale": {"domain": [-12, 10], "nice": false, "zero": false}, "axis": {"title": "[µV]", "values": [-10, -5, 0, 5], "titleY": 21}}}},
{"mark": {"type": "line", "strokeWidth": 2, "clip": true}, "encoding": {"x": {"field": "t", "type": "quantitative", "axis": {"title": null, "format": "d", "values": [0, 1, 2, 3, 4, 5, 6], "labelExpr": "datum.value == 6 ? '[s]' : datum.label"}}, "y": {"field": "Pza", "type": "quantitative", "axis": {"title": "[µV]", "values": [-10, -5, 0, 5], "titleY": 21}}}}
]},
{"title": {"text": "P4", "offset": -11}, "width": 400, "height": 140, "layer": [
{"data": {"values": [{"ref": 0}]}, "mark": {"type": "rule", "strokeDash": [3, 3], "strokeWidth": 1.2}, "encoding": {"x": {"datum": 0}}},
{"data": {"values": [{"ref": 0}]}, "mark": {"type": "rule", "strokeDash": [6, 4], "strokeWidth": 1}, "encoding": {"y": {"datum": 0}}},
{"data": {"values": [{"ref": 6.1}]}, "mark": {"type": "rule", "strokeWidth": 1.5}, "encoding": {"x": {"datum": 6.1}}},
{"mark": {"type": "line", "strokeWidth": 1, "clip": true}, "encoding": {"x": {"field": "t", "type": "quantitative", "scale": {"domain": [-0.1, 6.1], "nice": false, "zero": false}, "axis": {"title": null, "format": "d", "values": [0, 1, 2, 3, 4, 5, 6], "labelExpr": "datum.value == 6 ? '[s]' : datum.label"}}, "y": {"field": "P4b", "type": "quantitative", "scale": {"domain": [-12, 10], "nice": false, "zero": false}, "axis": {"title": "[µV]", "values": [-10, -5, 0, 5], "titleY": 21}}}},
{"mark": {"type": "line", "strokeWidth": 2, "clip": true}, "encoding": {"x": {"field": "t", "type": "quantitative", "axis": {"title": null, "format": "d", "values": [0, 1, 2, 3, 4, 5, 6], "labelExpr": "datum.value == 6 ? '[s]' : datum.label"}}, "y": {"field": "P4a", "type": "quantitative", "axis": {"title": "[µV]", "values": [-10, -5, 0, 5], "titleY": 21}}}}
]}
], "spacing": 9}
],
"config": {
"view": {"stroke": null},
"font": "Liberation Sans",
"title": {"anchor": "start", "font": "Liberation Sans", "fontSize": 12, "fontWeight": "bold", "color": "black", "dx": -5, "offset": 2},
"axis": {"grid": false, "ticks": false, "tickSize": 0, "domainColor": "black", "labelColor": "black", "labelFont": "Liberation Sans", "labelFontSize": 11, "labelFontWeight": "bold", "labelFlush": false, "labelOverlap": false, "titleColor": "black", "titleFont": "Liberation Sans", "titleFontSize": 11, "titleFontWeight": "bold"},
"axisX": {"labelPadding": -2, "labelBaseline": "alphabetic", "domainWidth": 1.6},
"axisY": {"labelAlign": "left", "labelPadding": -1, "labelBaseline": "middle", "domainWidth": 1.4, "titleAngle": 0, "titleAlign": "left", "titleBaseline": "middle", "titleX": 1},
"line": {"color": "black"},
"rule": {"color": "black"}
}
}
